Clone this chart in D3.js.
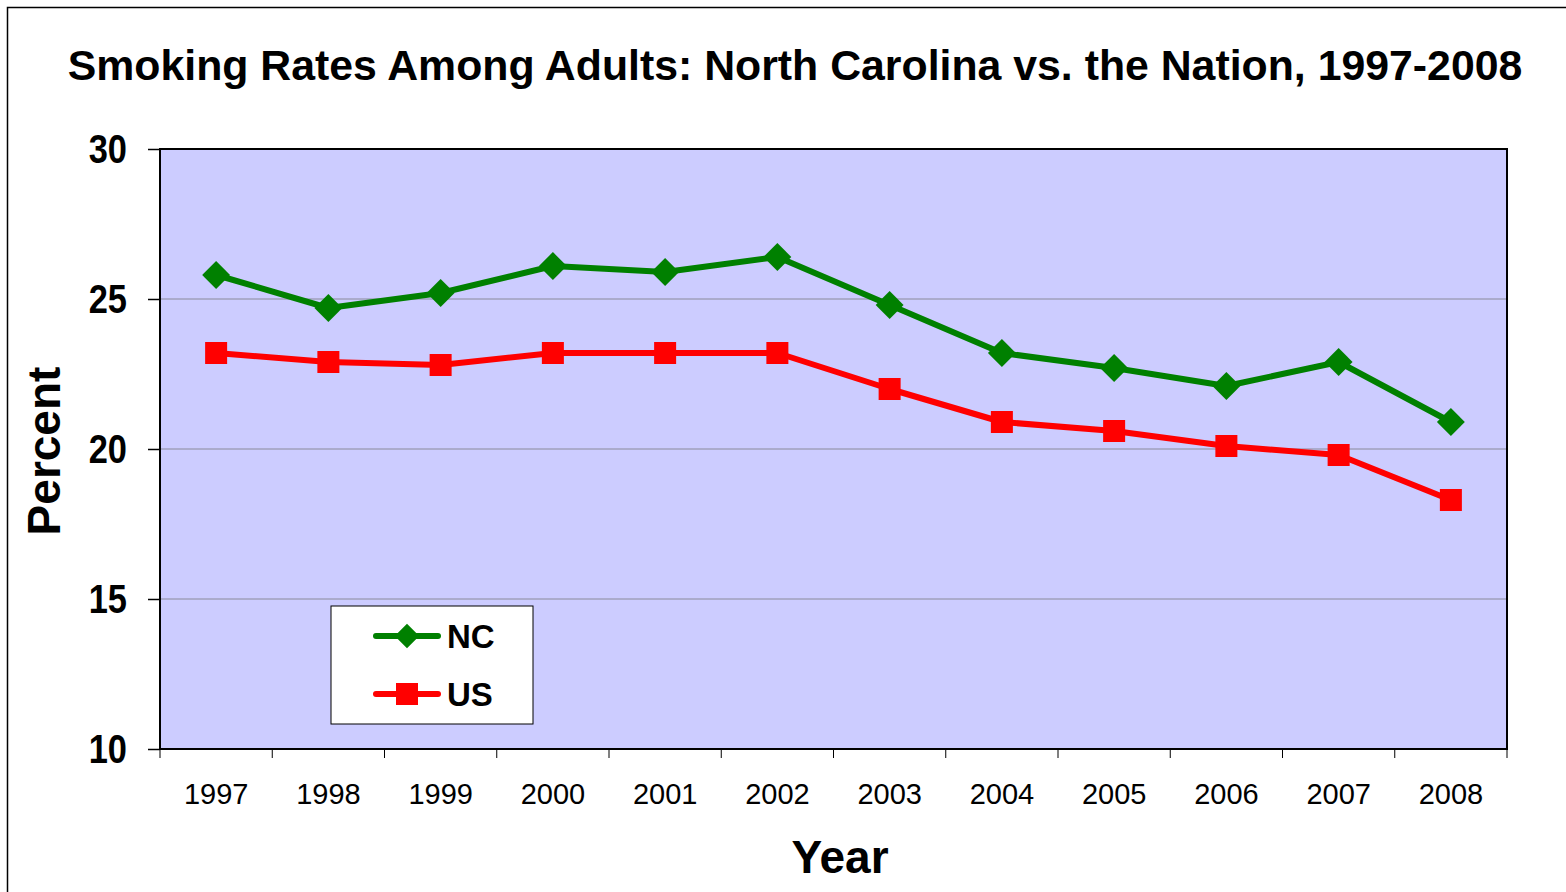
<!DOCTYPE html>
<html>
<head>
<style>
body { margin: 0; background: #fff; }
text { font-family: "Liberation Sans", Arial, sans-serif; }
</style>
</head>
<body>
<script src="https://cdn.jsdelivr.net/npm/d3@7"></script>
<script>
// data
var years = ["1997","1998","1999","2000","2001","2002","2003","2004","2005","2006","2007","2008"];
var ncRates = [25.8, 24.7, 25.2, 26.1, 25.9, 26.4, 24.8, 23.2, 22.7, 22.1, 22.9, 20.9];
var usRates = [23.2, 22.9, 22.8, 23.2, 23.2, 23.2, 22.0, 20.9, 20.6, 20.1, 19.8, 18.3];
var yTicks = [10, 15, 20, 25, 30];

var W = 1566, H = 892;
var plotL = 160, plotR = 1507, plotT = 149, plotB = 749;

var svg = d3.select("body").append("svg")
    .attr("width", W)
    .attr("height", H);

// outer frame
svg.append("rect")
    .attr("x", 7.5).attr("y", 7.5)
    .attr("width", W).attr("height", H)
    .attr("fill", "none")
    .attr("stroke", "#000")
    .attr("stroke-width", 1.5);

var x = d3.scaleBand().domain(years).range([plotL, plotR]);
var y = d3.scaleLinear().domain([10, 30]).range([plotB, plotT]);

// plot background
svg.append("rect")
    .attr("x", plotL).attr("y", plotT)
    .attr("width", plotR - plotL).attr("height", plotB - plotT)
    .attr("fill", "#ccccff");

// gridlines
svg.selectAll(".grid")
    .data(yTicks.slice(1, 4))
    .enter().append("line")
    .attr("x1", plotL).attr("x2", plotR)
    .attr("y1", function (d) { return y(d); })
    .attr("y2", function (d) { return y(d); })
    .attr("stroke", "#8a8a9a")
    .attr("stroke-width", 1);

// plot border
svg.append("rect")
    .attr("x", plotL).attr("y", plotT)
    .attr("width", plotR - plotL).attr("height", plotB - plotT)
    .attr("fill", "none")
    .attr("stroke", "#000")
    .attr("stroke-width", 2);

// y axis
var yAxis = svg.append("g")
    .attr("transform", "translate(" + plotL + ",0)")
    .call(d3.axisLeft(y).tickValues(yTicks).tickSize(12).tickPadding(18));
yAxis.select(".domain").remove();
yAxis.selectAll("line").attr("stroke", "#000").attr("stroke-width", 1.5);
yAxis.selectAll("text")
    .attr("fill", "#000")
    .style("font-size", "41px")
    .style("font-weight", "bold")
    .attr("transform", "scale(0.84,1)")
    .attr("x", -33 / 0.84);

// x axis (ticks between categories)
var xAxis = svg.append("g")
    .attr("transform", "translate(0," + plotB + ")")
    .call(d3.axisBottom(x).tickSize(0).tickPadding(34));
xAxis.select(".domain").remove();
xAxis.selectAll("text")
    .attr("fill", "#000")
    .style("font-size", "29px");
var bounds = years.map(function (d) { return x(d); }).concat([plotR]);
svg.selectAll(".xtick")
    .data(bounds)
    .enter().append("line")
    .attr("x1", function (d) { return d; })
    .attr("x2", function (d) { return d; })
    .attr("y1", plotB).attr("y2", plotB + 9)
    .attr("stroke", "#000")
    .attr("stroke-width", 1);

var cx = function (d, i) { return x(years[i]) + x.bandwidth() / 2; };
var line = d3.line()
    .x(function (d, i) { return x(years[i]) + x.bandwidth() / 2; })
    .y(function (d) { return y(d); });

// NC series
svg.append("path")
    .datum(ncRates)
    .attr("d", line)
    .attr("fill", "none")
    .attr("stroke", "#008000")
    .attr("stroke-width", 6)
    .attr("stroke-linejoin", "round");
svg.selectAll(".nc")
    .data(ncRates)
    .enter().append("path")
    .attr("d", d3.symbol().type(d3.symbolSquare).size(390))
    .attr("transform", function (d, i) { return "translate(" + cx(d, i) + "," + y(d) + ") rotate(45)"; })
    .attr("fill", "#008000");

// US series
svg.append("path")
    .datum(usRates)
    .attr("d", line)
    .attr("fill", "none")
    .attr("stroke", "#ff0000")
    .attr("stroke-width", 6)
    .attr("stroke-linejoin", "round");
svg.selectAll(".us")
    .data(usRates)
    .enter().append("rect")
    .attr("x", function (d, i) { return cx(d, i) - 11; })
    .attr("y", function (d) { return y(d) - 11; })
    .attr("width", 22).attr("height", 22)
    .attr("fill", "#ff0000");

// legend
var lg = svg.append("g");
lg.append("rect")
    .attr("x", 331).attr("y", 606)
    .attr("width", 202).attr("height", 118)
    .attr("fill", "#fff")
    .attr("stroke", "#000")
    .attr("stroke-width", 1);
var legendItems = [
    { name: "NC", color: "#008000", y: 636 },
    { name: "US", color: "#ff0000", y: 694 }
];
legendItems.forEach(function (it) {
    lg.append("line")
        .attr("x1", 376).attr("x2", 438)
        .attr("y1", it.y).attr("y2", it.y)
        .attr("stroke", it.color)
        .attr("stroke-width", 6)
        .attr("stroke-linecap", "round");
    if (it.name === "NC") {
        lg.append("path")
            .attr("d", d3.symbol().type(d3.symbolSquare).size(300))
            .attr("transform", "translate(407," + it.y + ") rotate(45)")
            .attr("fill", it.color);
    } else {
        lg.append("rect")
            .attr("x", 396).attr("y", it.y - 11)
            .attr("width", 22).attr("height", 22)
            .attr("fill", it.color);
    }
    lg.append("text")
        .attr("x", 447).attr("y", it.y + 12)
        .style("font-size", "33px")
        .style("font-weight", "bold")
        .text(it.name);
});

// title and axis titles
svg.append("text")
    .attr("x", 795).attr("y", 80)
    .attr("text-anchor", "middle")
    .style("font-size", "42.8px")
    .style("font-weight", "bold")
    .text("Smoking Rates Among Adults: North Carolina vs. the Nation, 1997-2008");

svg.append("text")
    .attr("x", 840).attr("y", 873)
    .attr("text-anchor", "middle")
    .style("font-size", "46px")
    .style("font-weight", "bold")
    .text("Year");

svg.append("text")
    .attr("transform", "translate(60,451) rotate(-90)")
    .attr("text-anchor", "middle")
    .style("font-size", "46px")
    .style("font-weight", "bold")
    .text("Percent");
</script>
</body>
</html>
